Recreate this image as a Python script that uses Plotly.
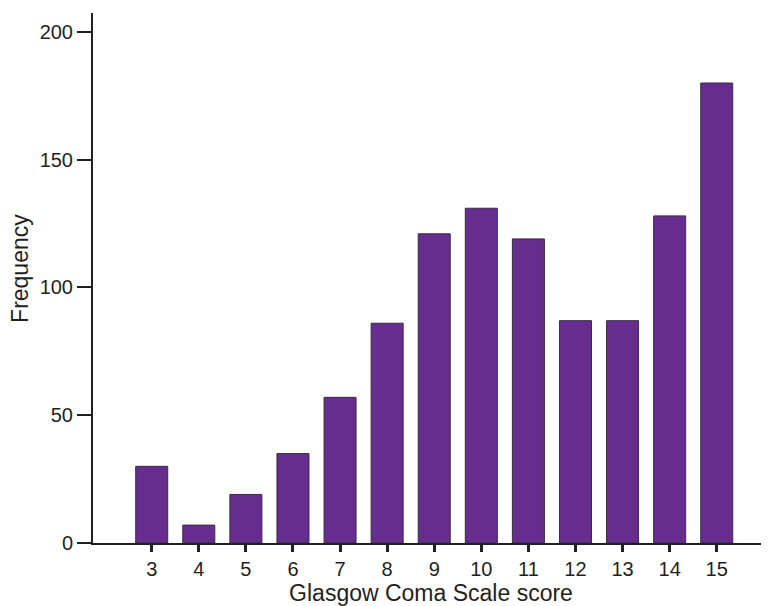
import plotly.graph_objects as go

scores = [3, 4, 5, 6, 7, 8, 9, 10, 11, 12, 13, 14, 15]
frequency = [30, 7, 19, 35, 57, 86, 121, 131, 119, 87, 87, 128, 180]
y_ticks = [0, 50, 100, 150, 200]

fig = go.Figure(
    go.Bar(
        x=scores,
        y=frequency,
        width=0.68,
        marker=dict(color="#662D8F", line=dict(color="#3a2a48", width=1)),
    )
)

font = "Liberation Sans, Arial, sans-serif"
fig.update_layout(
    width=761,
    height=598,
    margin=dict(l=85, r=0, t=5, b=63, autoexpand=False),
    plot_bgcolor="white",
    paper_bgcolor="white",
    showlegend=False,
    font=dict(family=font, color="#231f20"),
    annotations=[
        dict(
            text="Frequency",
            textangle=-90,
            xref="paper",
            yref="paper",
            x=-0.108,
            y=0.519,
            xanchor="center",
            yanchor="middle",
            showarrow=False,
            font=dict(size=23, family=font, color="#231f20"),
        )
    ],
)
fig.update_xaxes(
    range=[1.753, 16.11],
    tickmode="array",
    tickvals=scores,
    ticktext=[str(s) for s in scores],
    ticks="outside",
    ticklen=7,
    tickwidth=3,
    tickcolor="#231f20",
    showline=True,
    linecolor="#231f20",
    linewidth=2,
    showgrid=False,
    zeroline=False,
    tickfont=dict(size=20),
    title=dict(text="Glasgow Coma Scale score", font=dict(size=23), standoff=8),
)
fig.update_yaxes(
    range=[0, 207.4],
    tickmode="array",
    tickvals=y_ticks,
    ticks="outside",
    ticklen=14,
    tickwidth=2,
    tickcolor="#231f20",
    showline=True,
    linecolor="#231f20",
    linewidth=2,
    showgrid=False,
    zeroline=False,
    tickfont=dict(size=20),
)

fig.write_html("out.html")
